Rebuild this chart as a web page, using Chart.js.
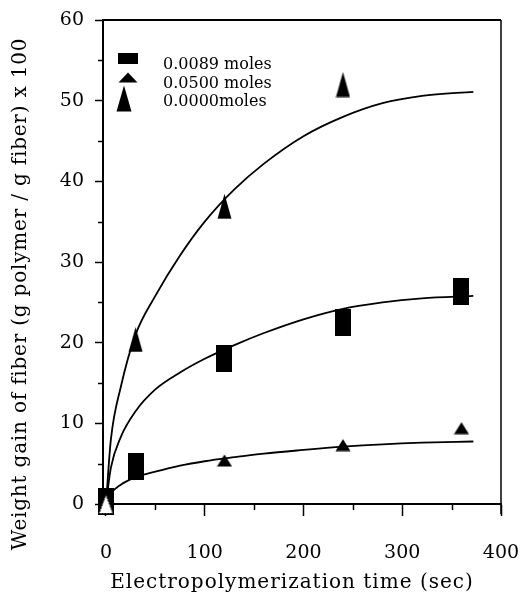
<!DOCTYPE html>
<html>
<head>
<meta charset="utf-8">
<script src="https://cdn.jsdelivr.net/npm/chart.js@4"></script>
<style>
  body { margin: 0; background: #fff; }
  #wrap { width: 526px; height: 599px; }
</style>
</head>
<body>
<div id="wrap"><canvas id="gain-chart"></canvas></div>
<script>
// Measured points (time in sec, weight gain x 100)
const rectTimes = [0, 30, 120, 240, 360];
const rectGain = [0.3, 4.6, 18.0, 22.5, 26.4];
const smallTriTimes = [120, 240, 360];
const smallTriGain = [5.4, 7.3, 9.4];
const tallTriTimes = [0, 30, 120, 240];
const tallTriGain = [0, 20.4, 36.9, 52.0];

// Fitted curves
const fitTimes = [0, 5, 15, 30, 50, 75, 100, 130, 160, 200, 240, 280, 320, 372];
const fitTall = [0, 8, 14.5, 21, 25.8, 30.8, 35, 39, 42.2, 45.6, 48.0, 49.7, 50.6, 51.1];
const fitRect = [0, 4.5, 8.3, 11.5, 14.2, 16.3, 18.0, 19.7, 21.2, 22.9, 24.2, 25.0, 25.5, 25.8];
const fitSmall = [0, 1.3, 2.4, 3.3, 4.0, 4.75, 5.3, 5.8, 6.25, 6.7, 7.1, 7.4, 7.6, 7.75];

const seriesLabels = ['0.0089 moles', '0.0500 moles', '0.0000moles'];
const xTickValues = [0, 100, 200, 300, 400];
const xMinorTicks = [50, 150, 250, 350];
const yMinorTicks = [5, 15, 25, 35, 45, 55];

const SERIF = '"DejaVu Serif", "Liberation Serif", serif';

/**
 * Marker images (Chart.js draws canvas pointStyles centred on the point)
 */
function makeRect(w, h) {
  const c = document.createElement('canvas');
  c.width = w; c.height = h;
  const g = c.getContext('2d');
  g.fillStyle = '#000';
  g.fillRect(0, 0, w, h);
  return c;
}

function makeTri(w, h, fill) {
  const c = document.createElement('canvas');
  c.width = w; c.height = h;
  const g = c.getContext('2d');
  g.beginPath();
  g.moveTo(w / 2, 0.5);
  g.lineTo(w - 0.5, h - 0.5);
  g.lineTo(0.5, h - 0.5);
  g.closePath();
  g.fillStyle = fill;
  g.fill();
  if (fill !== '#000') {
    g.strokeStyle = '#000';
    g.lineWidth = 1;
    g.setLineDash([2, 1]);
    g.stroke();
  }
  return c;
}

const rectMark = makeRect(16, 27);
const smallTriMark = makeTri(16, 13, '#000');
const tallTriMark = makeTri(15, 26, '#000');
const hollowTriMark = makeTri(15, 20, '#fff');

const legendMarks = [makeRect(20, 11), makeTri(20, 11, '#000'), makeTri(16, 27, '#000')];

function toPoints(xs, ys) {
  return xs.map((x, i) => ({ x: x, y: ys[i] }));
}

function curve(ys) {
  return {
    data: toPoints(fitTimes, ys),
    showLine: true,
    borderColor: '#000',
    borderWidth: 1.8,
    pointRadius: 0,
    cubicInterpolationMode: 'monotone',
    fill: false,
    order: 5
  };
}

/**
 * Frame, minor ticks, legend and axis titles
 */
const decorPlugin = {
  id: 'decor',
  afterDraw(chart) {
    const ctx = chart.ctx;
    const a = chart.chartArea;
    const xs = chart.scales.x;
    const ys = chart.scales.y;

    ctx.save();
    ctx.strokeStyle = '#000';

    // top and right edges of the box
    ctx.lineWidth = 2;
    ctx.beginPath();
    ctx.moveTo(a.left - 1, a.top);
    ctx.lineTo(a.right, a.top);
    ctx.stroke();
    ctx.lineWidth = 1.5;
    ctx.beginPath();
    ctx.moveTo(a.right, a.top);
    ctx.lineTo(a.right, a.bottom + 10);
    ctx.stroke();

    // minor ticks
    ctx.lineWidth = 1.5;
    yMinorTicks.forEach(v => {
      const py = Math.round(ys.getPixelForValue(v)) + 0.5;
      ctx.beginPath();
      ctx.moveTo(a.left - 5, py);
      ctx.lineTo(a.left, py);
      ctx.stroke();
    });
    xMinorTicks.forEach(v => {
      const px = Math.round(xs.getPixelForValue(v)) + 0.5;
      ctx.beginPath();
      ctx.moveTo(px, a.bottom);
      ctx.lineTo(px, a.bottom + 6);
      ctx.stroke();
    });

    // legend
    const markCentres = [[a.left + 25, a.top + 38.5], [a.left + 25, a.top + 57.5], [a.left + 21, a.top + 78.5]];
    legendMarks.forEach((m, i) => {
      ctx.drawImage(m, Math.round(markCentres[i][0] - m.width / 2), Math.round(markCentres[i][1] - m.height / 2));
    });
    ctx.fillStyle = '#000';
    ctx.font = '16px ' + SERIF;
    ctx.textAlign = 'left';
    ctx.textBaseline = 'middle';
    seriesLabels.forEach((t, i) => {
      ctx.fillText(t, a.left + 60, a.top + 45 + i * 18.5);
    });

    // axis titles
    ctx.textAlign = 'center';
    ctx.textBaseline = 'middle';
    ctx.font = '20px ' + SERIF;
    ctx.letterSpacing = '1px';
    ctx.fillText('Electropolymerization time (sec)', (a.left + a.right) / 2 - 10, 583);
    ctx.letterSpacing = '0.8px';
    ctx.font = '20px ' + SERIF;
    ctx.translate(21, a.top + 274);
    ctx.rotate(-Math.PI / 2);
    ctx.fillText('Weight gain of fiber (g polymer / g fiber) x 100', 0, 0);
    ctx.restore();
  }
};

function initChart() {
  const ctx = document.getElementById('gain-chart');

  new Chart(ctx, {
    type: 'scatter',
    data: {
      datasets: [
        {
          label: seriesLabels[0],
          data: toPoints(rectTimes, rectGain),
          pointStyle: rectMark,
          pointRadius: 8,
          order: 3
        },
        {
          label: seriesLabels[1],
          data: toPoints(smallTriTimes, smallTriGain),
          pointStyle: smallTriMark,
          pointRadius: 8,
          order: 2
        },
        {
          label: seriesLabels[2],
          data: toPoints(tallTriTimes, tallTriGain),
          pointStyle: [hollowTriMark, tallTriMark, tallTriMark, tallTriMark],
          pointRadius: 8,
          order: 1
        },
        curve(fitTall),
        curve(fitRect),
        curve(fitSmall)
      ]
    },
    options: {
      responsive: true,
      maintainAspectRatio: false,
      animation: false,
      events: [],
      clip: false,
      layout: { padding: { top: 20, right: 25, left: 0, bottom: 0 } },
      plugins: {
        legend: { display: false },
        tooltip: { enabled: false }
      },
      scales: {
        x: {
          type: 'linear',
          min: -3,
          max: 400,
          afterFit: (scale) => {
            scale.height = 95;
            scale.paddingLeft = 0;
            scale.paddingRight = 0;
          },
          afterBuildTicks: (scale) => {
            scale.ticks = xTickValues.map(v => ({ value: v }));
          },
          border: { display: true, color: '#000', width: 2 },
          grid: { drawOnChartArea: false, drawTicks: true, tickLength: 12, tickColor: '#000', tickWidth: 1.5 },
          ticks: { color: '#000', padding: 26, font: { family: SERIF, size: 19 } }
        },
        y: {
          type: 'linear',
          min: 0,
          max: 60,
          afterFit: (scale) => {
            scale.width = 103;
            scale.paddingTop = 0;
            scale.paddingBottom = 0;
          },
          border: { display: true, color: '#000', width: 2 },
          grid: { drawOnChartArea: false, drawTicks: true, tickLength: 8, tickColor: '#000', tickWidth: 1.5 },
          ticks: { color: '#000', stepSize: 10, padding: 11, font: { family: SERIF, size: 19 } }
        }
      }
    },
    plugins: [decorPlugin]
  });
}

if (document.readyState === 'loading') {
  document.addEventListener('DOMContentLoaded', initChart);
} else {
  initChart();
}
</script>
</body>
</html>
